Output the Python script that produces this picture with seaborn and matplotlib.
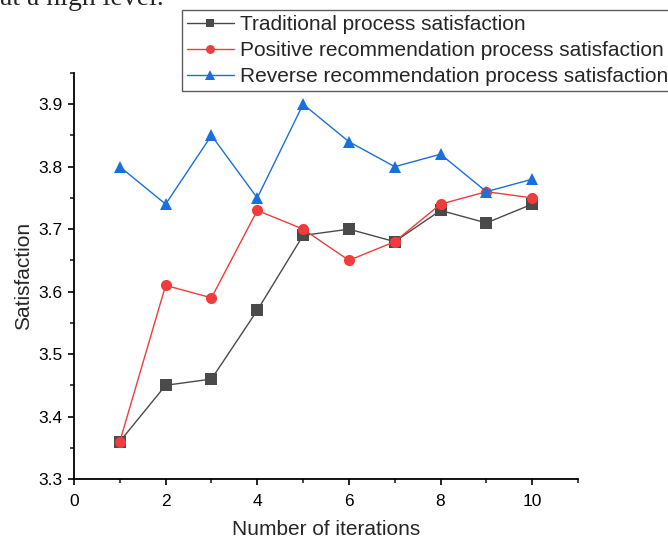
import matplotlib
matplotlib.use("Agg")
import matplotlib.pyplot as plt
from matplotlib.ticker import MultipleLocator
import seaborn as sns
import pandas as pd

iterations = [1, 2, 3, 4, 5, 6, 7, 8, 9, 10]
traditional = [3.36, 3.45, 3.46, 3.57, 3.69, 3.70, 3.68, 3.73, 3.71, 3.74]
positive = [3.36, 3.61, 3.59, 3.73, 3.70, 3.65, 3.68, 3.74, 3.76, 3.75]
reverse = [3.80, 3.74, 3.85, 3.75, 3.90, 3.84, 3.80, 3.82, 3.76, 3.78]

series_names = [
    "Traditional process satisfaction",
    "Positive recommendation process satisfaction",
    "Reverse recommendation process satisfaction",
]
series_values = [traditional, positive, reverse]
colors = ["#4a4a4a", "#f03c3c", "#1a6fdf"]
markers = ["s", "o", "^"]

sns.set_style("ticks")
plt.rcParams["font.family"] = ["Liberation Sans", "DejaVu Sans"]

W, H = 668, 541
fig = plt.figure(figsize=(W / 100, H / 100), dpi=100)
ax = fig.add_axes([74 / W, 1 - 479 / H, 504 / W, 406 / H])

for name, vals, c, m in zip(series_names, series_values, colors, markers):
    df = pd.DataFrame({"x": iterations, "y": vals})
    sns.lineplot(data=df, x="x", y="y", ax=ax, color=c, marker=m,
                 markersize=8 if m != "^" else 9, markeredgewidth=0,
                 linewidth=1.0, label=name)

ax.set_xlim(0, 11)
ax.set_ylim(3.3, 3.95)
ax.xaxis.set_major_locator(MultipleLocator(2))
ax.xaxis.set_minor_locator(MultipleLocator(1))
ax.set_yticks([3.3, 3.4, 3.5, 3.6, 3.7, 3.8, 3.9])
ax.yaxis.set_minor_locator(MultipleLocator(0.05))
ax.tick_params(axis="both", which="major", direction="out", length=4, width=1.2,
               labelsize=12.5, colors="black")
ax.tick_params(axis="x", which="major", pad=7)
ax.tick_params(axis="y", which="major", pad=4)
ax.tick_params(axis="both", which="minor", direction="out", length=3, width=1.2)
for side in ("top", "right"):
    ax.spines[side].set_visible(False)
for side in ("left", "bottom"):
    ax.spines[side].set_linewidth(1.3)
    ax.spines[side].set_color("black")

ax.set_xlabel("Number of iterations", fontsize=15, labelpad=8)
ax.set_ylabel("Satisfaction", fontsize=15, labelpad=4)

handles, labels = ax.get_legend_handles_labels()
ax.get_legend().remove()
leg = fig.legend(handles, labels, loc="upper left", bbox_to_anchor=(181.5 / W, 1 - 10 / H),
                 fontsize=15, frameon=True, fancybox=False, edgecolor="#333333",
                 handlelength=2.25, handletextpad=0.3, labelspacing=0.33,
                 borderpad=0.25, borderaxespad=0.0, markerscale=0.8)
leg.get_frame().set_linewidth(1.0)

fig.text(0.0, 1 - 5 / H, "at a high level.", family=["Liberation Serif", "DejaVu Serif"],
         fontsize=20, va="baseline", ha="left")

fig.savefig("out.png", dpi=100)
